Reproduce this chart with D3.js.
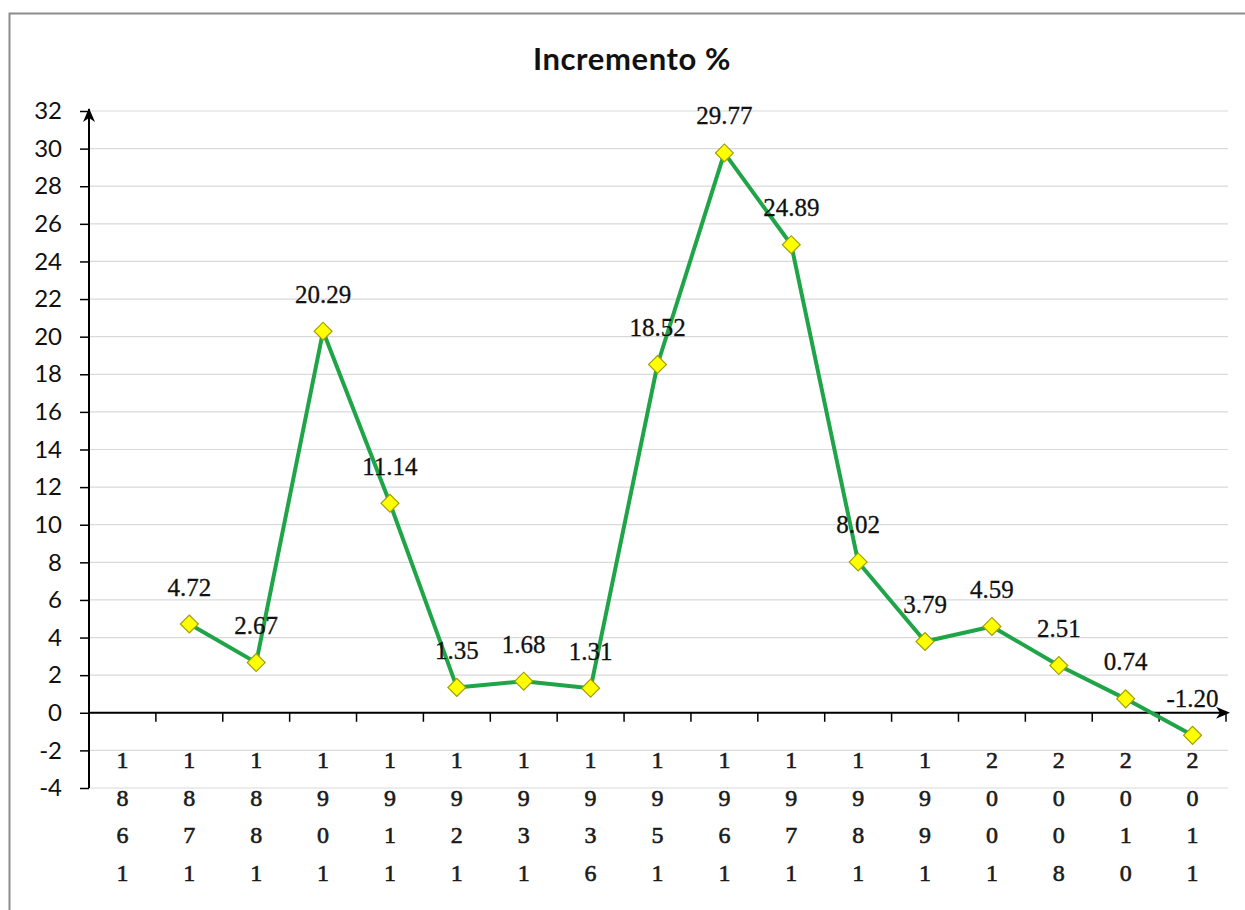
<!DOCTYPE html>
<html><head><meta charset="utf-8">
<script src="https://cdn.jsdelivr.net/npm/d3@7"></script>
<style>
html,body{margin:0;padding:0;background:#fff;}
svg{display:block;}
</style></head>
<body>
<svg id="chart" width="1245" height="910"></svg>
<script>
const years = ["1861","1871","1881","1901","1911","1921","1931","1936","1951","1961","1971","1981","1991","2001","2008","2010","2011"];
const values = [null,4.72,2.67,20.29,11.14,1.35,1.68,1.31,18.52,29.77,24.89,8.02,3.79,4.59,2.51,0.74,-1.20];
const yTicks = [-4,-2,0,2,4,6,8,10,12,14,16,18,20,22,24,26,28,30,32];
const title = "Incremento %";

(function(){
const svg = d3.select("#chart");
const pLeft = 89, pRight = 1226, pTop = 111, pBottom = 788;

// outer frame
svg.append("rect").attr("x",9.5).attr("y",13.5).attr("width",1250).attr("height",910)
  .attr("fill","#fff").attr("stroke","#8c8c8c").attr("stroke-width",2);

const x = d3.scaleBand().domain(years).range([pLeft,pRight]).padding(0);
const y = d3.scaleLinear().domain([-4,32]).range([pBottom,pTop]);
const cx = d => x(d) + x.bandwidth()/2;

// gridlines
svg.append("g").selectAll("line").data(yTicks).join("line")
  .attr("x1",pLeft).attr("x2",pRight+2)
  .attr("y1",d=>y(d)).attr("y2",d=>y(d))
  .attr("stroke","#d9d9d9").attr("stroke-width",1.2);

// title
svg.append("text").attr("x",632).attr("y",58).attr("text-anchor","middle")
  .attr("dominant-baseline","central")
  .style("font-family","Lato, 'Open Sans', sans-serif").style("font-weight","bold").style("font-size","31px")
  .style("letter-spacing","0.6px")
  .attr("fill","#111").text(title);

// y axis
const yAxis = d3.axisLeft(y).tickValues(yTicks).tickSize(9).tickPadding(18).tickFormat(d=>String(d));
const gy = svg.append("g").attr("transform",`translate(${pLeft},0)`).call(yAxis);
gy.select(".domain").remove();
gy.selectAll(".tick line").attr("stroke","#000").attr("stroke-width",1.5);
gy.selectAll(".tick text").style("font-family","Lato, 'Open Sans', sans-serif").style("font-size","24px").attr("fill","#111");
gy.append("line").attr("x1",0).attr("x2",0).attr("y1",y(-4)).attr("y2",y(32)-2)
  .attr("stroke","#000").attr("stroke-width",2);
gy.append("path").attr("d",`M0,${y(32)-3} L-6,${y(32)+11} L0,${y(32)+7} L6,${y(32)+11} Z`).attr("fill","#000");

// x axis at zero
const xAxisLine = svg.append("g");
xAxisLine.append("line").attr("x1",pLeft).attr("x2",pRight+1).attr("y1",y(0)).attr("y2",y(0))
  .attr("stroke","#000").attr("stroke-width",2);
xAxisLine.append("path").attr("d",`M${pRight+4},${y(0)} L${pRight-10},${y(0)-6} L${pRight-6},${y(0)} L${pRight-10},${y(0)+6} Z`).attr("fill","#000");
xAxisLine.selectAll("line.t").data(years.slice(1)).join("line").attr("class","t")
  .attr("x1",d=>x(d)).attr("x2",d=>x(d)).attr("y1",y(0)).attr("y2",y(0)+9)
  .attr("stroke","#000").attr("stroke-width",1.5);
xAxisLine.append("line").attr("x1",pRight).attr("x2",pRight).attr("y1",y(0)).attr("y2",y(0)+9)
  .attr("stroke","#000").attr("stroke-width",1.5);

// x labels (stacked digits)
const xl = svg.append("g").selectAll("text").data(years).join("text")
  .attr("x",d=>cx(d)).attr("y",760).attr("text-anchor","middle")
  .style("font-family","'Liberation Serif', 'DejaVu Serif', serif").style("font-size","24px")
  .attr("fill","#1a1a1a").attr("stroke","#1a1a1a").attr("stroke-width",0.6);
xl.each(function(d){
  const t = d3.select(this);
  d.split("").forEach((c,i)=>{
    t.append("tspan").attr("x",cx(d)).attr("y",760+i*37.5).attr("dominant-baseline","central").text(c);
  });
});

// line
const pts = years.map((yr,i)=>({yr,v:values[i]})).filter(d=>d.v!==null);
const line = d3.line().x(d=>cx(d.yr)).y(d=>y(d.v));
svg.append("path").datum(pts).attr("d",line).attr("fill","none")
  .attr("stroke","#1fa548").attr("stroke-width",4).attr("stroke-linejoin","round");

// markers
const sym = d3.symbol().type(d3.symbolSquare).size(160);
svg.append("g").selectAll("path").data(pts).join("path")
  .attr("d",sym).attr("transform",d=>`translate(${cx(d.yr)},${y(d.v)}) rotate(45)`)
  .attr("fill","#ffff00").attr("stroke","#a0a000").attr("stroke-width",1.2);

// data labels
svg.append("g").selectAll("text").data(pts).join("text")
  .attr("x",d=>cx(d.yr)).attr("y",d=>y(d.v)-37).attr("text-anchor","middle").attr("dominant-baseline","central")
  .style("font-family","'Liberation Serif', 'DejaVu Serif', serif").style("font-size","25px")
  .attr("fill","#111").attr("stroke","#111").attr("stroke-width",0.3)
  .text(d=>d.v.toFixed(2));
})();
</script>
</body></html>
